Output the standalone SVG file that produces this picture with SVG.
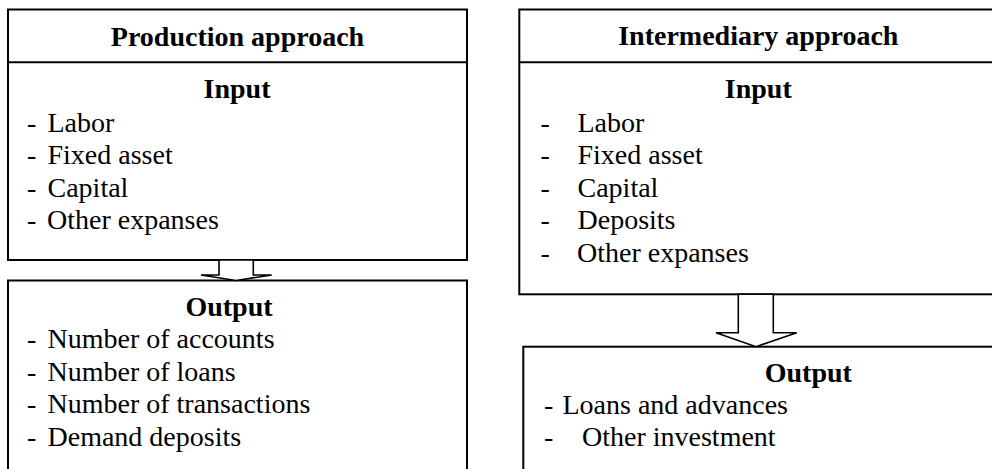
<svg xmlns="http://www.w3.org/2000/svg" width="992" height="469" viewBox="0 0 992 469">
<style>
.box{fill:#fff;stroke:#000;stroke-width:2}
.div{stroke:#000;stroke-width:2}
.arr{fill:#fff;stroke:#000;stroke-width:1.6;stroke-linejoin:miter}
text{font-family:"Liberation Serif","Times New Roman",serif;font-size:28px;fill:#000}
.b{font-weight:bold}
.c{text-anchor:middle}
</style>
<rect width="992" height="469" fill="#fff"/>
<g id="production-input">
<rect class="box" x="8" y="9.5" width="459" height="250.5"/>
<line class="div" x1="8" y1="62.3" x2="467" y2="62.3"/>
<text class="b c" x="237.5" y="45.5">Production approach</text>
<text class="b c" x="237" y="97.7">Input</text>
<text x="27" y="131.7">- <tspan x="47.5">Labor</tspan></text>
<text x="27" y="164">- <tspan x="47.5">Fixed asset</tspan></text>
<text x="27" y="196.5">- <tspan x="47.5">Capital</tspan></text>
<text x="27" y="229">- <tspan x="47">Other expanses</tspan></text>
</g>
<g id="production-output">
<rect class="box" x="8" y="280.5" width="459" height="200"/>
<text class="b c" x="229" y="316">Output</text>
<text x="27" y="348.3">- <tspan x="47.5">Number of accounts</tspan></text>
<text x="27" y="380.8">- <tspan x="47.5">Number of loans</tspan></text>
<text x="27" y="413.3">- <tspan x="47.5">Number of transactions</tspan></text>
<text x="27" y="445.8">- <tspan x="47.5">Demand deposits</tspan></text>
</g>
<g id="intermediary-input">
<rect class="box" x="519.3" y="9.5" width="490" height="284.8"/>
<line class="div" x1="519.3" y1="62.3" x2="1000" y2="62.3"/>
<text class="b c" x="758.3" y="45">Intermediary approach</text>
<text class="b c" x="758.3" y="97.7">Input</text>
<text x="540.5" y="131.7">- <tspan x="577.5">Labor</tspan></text>
<text x="540.5" y="163.5">- <tspan x="577.5">Fixed asset</tspan></text>
<text x="540.5" y="196.5">- <tspan x="577.5">Capital</tspan></text>
<text x="540.5" y="229">- <tspan x="577.5">Deposits</tspan></text>
<text x="540.5" y="261.5">- <tspan x="577">Other expanses</tspan></text>
</g>
<g id="intermediary-output">
<rect class="box" x="523.3" y="346.7" width="490" height="200"/>
<text class="b c" x="808.3" y="381.7">Output</text>
<text x="544" y="413.7">- <tspan x="562.5">Loans and advances</tspan></text>
<text x="544" y="446">- <tspan x="582">Other investment</tspan></text>
</g>
<g id="connectors">
<polygon class="arr" points="219,260 219,275 201,275 236,280.5 271.7,275 253.3,275 253.3,260"/>
<polygon class="arr" points="738.3,294.3 738.3,332.7 716,332.7 756,346.7 796.7,332.7 773.3,332.7 773.3,294.3"/>
</g>
</svg>
